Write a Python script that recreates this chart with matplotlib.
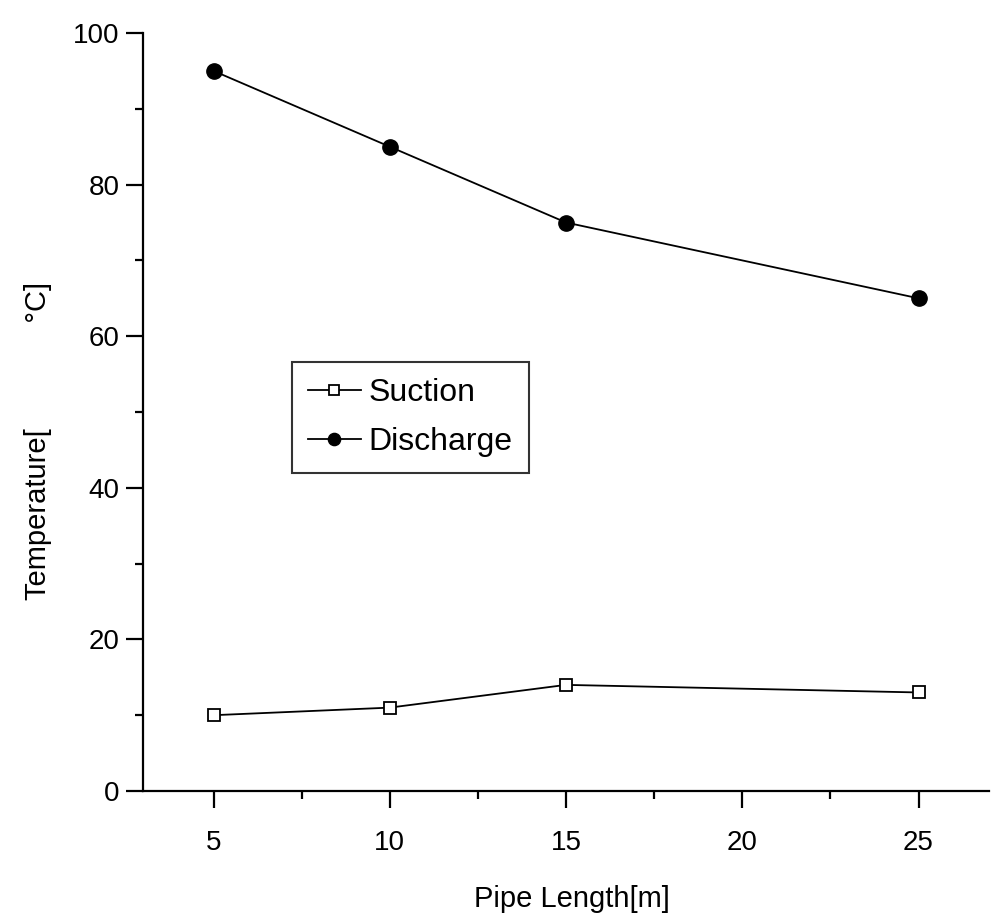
import numpy as np
import matplotlib
matplotlib.use("Agg")
import matplotlib.pyplot as plt
from matplotlib.ticker import MultipleLocator

plt.rcParams['font.family'] = ['Liberation Sans', 'DejaVu Sans']

# pipe length (m) and measured temperatures (deg C)
pipe_length = [5, 10, 15, 25]
suction = [10, 11, 14, 13]
discharge = [95, 85, 75, 65]

fig = plt.figure(figsize=(9.91, 9.16), dpi=100)
ax = fig.add_axes([143 / 991, 125 / 916, 846 / 991, 758 / 916])

ax.plot(pipe_length, suction, color='black', lw=1.3, marker='s', ms=9,
        mfc='white', mec='black', mew=1.3, label='Suction')
ax.plot(pipe_length, discharge, color='black', lw=1.3, marker='o', ms=11,
        mfc='black', mec='black', label='Discharge')

ax.set_xlim(3, 27)
ax.set_ylim(0, 100)
ax.xaxis.set_major_locator(MultipleLocator(5))
ax.xaxis.set_minor_locator(MultipleLocator(2.5))
ax.yaxis.set_major_locator(MultipleLocator(20))
ax.yaxis.set_minor_locator(MultipleLocator(10))

for side in ['top', 'right']:
    ax.spines[side].set_visible(False)
for side in ['left', 'bottom']:
    ax.spines[side].set_linewidth(1.6)

ax.tick_params(which='major', direction='out', length=12, width=1.6,
               labelsize=20)
ax.tick_params(which='minor', direction='out', length=6, width=1.6)
ax.tick_params(axis='x', which='major', pad=16)
ax.tick_params(axis='y', which='major', pad=5)

ax.set_xlabel('Pipe Length[m]', fontsize=21)
ax.set_ylabel('Temperature[' + ' ' * 13 + '\u00b0C]', fontsize=21)
ax.xaxis.set_label_coords(0.507, -0.124)
ax.yaxis.set_label_coords(-0.108, 0.462)

leg = ax.legend(loc='upper left', bbox_to_anchor=(0.176, 0.566),
                borderaxespad=0, fontsize=23, frameon=True, fancybox=False,
                edgecolor='black', handlelength=1.65, handletextpad=0.25,
                borderpad=0.5, labelspacing=0.6, markerscale=0.8)
leg.get_frame().set_linewidth(1.5)

fig.savefig('out.png', dpi=100)
